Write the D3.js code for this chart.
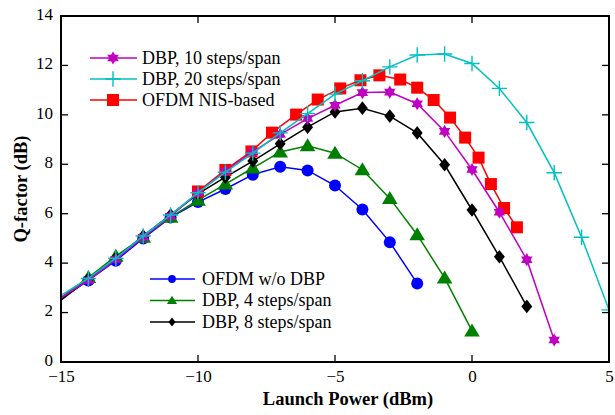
<!DOCTYPE html>
<html><head><meta charset="utf-8">
<script src="https://cdn.jsdelivr.net/npm/d3@7"></script>
</head>
<body style="margin:0;background:#fff">
<svg id="c" width="615" height="415"></svg>
<script>
const xTicks = [-15,-10,-5,0,5];
const yTicks = [0,2,4,6,8,10,12,14];

const blueX = [-15,-14,-13,-12,-11,-10,-9,-8,-7,-6,-5,-4,-3,-2];
const blueY = [2.55,3.3,4.1,5.0,5.85,6.47,7.0,7.58,7.9,7.75,7.14,6.17,4.85,3.18];

const greenX = [-15,-14,-13,-12,-11,-10,-9,-8,-7,-6,-5,-4,-3,-2,-1,0];
const greenY = [2.6,3.42,4.28,5.05,5.86,6.55,7.2,7.85,8.5,8.75,8.45,7.78,6.62,5.15,3.4,1.26];

const blackX = [-15,-14,-13,-12,-11,-10,-9,-8,-7,-6,-5,-4,-3,-2,-1,0,1,2];
const blackY = [2.5,3.35,4.2,5.1,5.95,6.8,7.48,8.13,8.83,9.5,10.12,10.27,9.95,9.27,7.98,6.15,4.26,2.25];

const redX = [-10,-9,-8.05,-7.3,-6.42,-5.63,-4.81,-4.07,-3.38,-2.62,-2.0,-1.4,-0.8,-0.25,0.24,0.69,1.17,1.64];
const redY = [6.9,7.77,8.52,9.28,10.01,10.62,11.07,11.4,11.6,11.43,11.1,10.6,9.89,9.08,8.27,7.2,6.23,5.45];

const magX = [-15,-14,-13,-12,-11,-10,-9,-8,-7,-6,-5,-4,-3,-2,-1,0,1,2,3];
const magY = [2.6,3.3,4.15,5.05,5.9,6.85,7.72,8.5,9.21,9.85,10.39,10.9,10.92,10.45,9.33,7.79,6.06,4.14,0.89];

const cyanX = [-15,-14,-13,-12,-11,-10,-9,-8,-7,-6,-5,-4,-3,-2,-1,0,1,2,3,4,5];
const cyanY = [2.7,3.38,4.2,5.1,5.95,6.85,7.68,8.45,9.27,10.05,10.84,11.38,11.94,12.42,12.46,12.08,11.07,9.69,7.66,5.05,2.11];

const series = [
  {name:"OFDM w/o DBP", x:blueX, y:blueY, color:"#0000ff", sym:"circle"},
  {name:"DBP, 4 steps/span", x:greenX, y:greenY, color:"#008000", sym:"triangle"},
  {name:"DBP, 8 steps/span", x:blackX, y:blackY, color:"#000000", sym:"diamond"},
  {name:"OFDM NIS-based", x:redX, y:redY, color:"#ff0000", sym:"square"},
  {name:"DBP, 10 steps/span", x:magX, y:magY, color:"#c000c0", sym:"star6"},
  {name:"DBP, 20 steps/span", x:cyanX, y:cyanY, color:"#00c0c0", sym:"plus"}
];
const legendTop = ["DBP, 10 steps/span","DBP, 20 steps/span","OFDM NIS-based"];
const legendBottom = ["OFDM w/o DBP","DBP, 4 steps/span","DBP, 8 steps/span"];

const FONT = "Liberation Serif";
const svg = d3.select("#c");
const L=61, R=609, T=16, B=362;
const x = d3.scaleLinear().domain([-15,5]).range([L,R]);
const y = d3.scaleLinear().domain([0,14]).range([B,T]);

svg.append("defs").append("clipPath").attr("id","clip")
  .append("rect").attr("x",L).attr("y",T).attr("width",R-L).attr("height",B-T);

function marker(g, sym, color, s){
  if(sym==="circle"){
    g.append("circle").attr("r",s*0.5).attr("fill",color);
  } else if(sym==="square"){
    g.append("rect").attr("x",-s/2).attr("y",-s/2).attr("width",s).attr("height",s).attr("fill",color);
  } else if(sym==="triangle"){
    const h=s*0.95;
    g.append("path").attr("d",`M0,${-h*0.6}L${s*0.6},${h*0.45}L${-s*0.6},${h*0.45}Z`).attr("fill",color);
  } else if(sym==="diamond"){
    const a=s*0.62;
    g.append("path").attr("d",`M0,${-a}L${a*0.8},0L0,${a}L${-a*0.8},0Z`).attr("fill",color);
  } else if(sym==="star6"){
    const r=s*0.55;
    const t1=[0,1,2].map(i=>{const a=-Math.PI/2+i*2*Math.PI/3;return [r*Math.cos(a),r*Math.sin(a)];});
    const t2=[0,1,2].map(i=>{const a=Math.PI/2+i*2*Math.PI/3;return [r*Math.cos(a),r*Math.sin(a)];});
    g.append("path").attr("d","M"+t1.join("L")+"Z").attr("fill",color);
    g.append("path").attr("d","M"+t2.join("L")+"Z").attr("fill",color);
  } else if(sym==="plus"){
    const a=s*0.55;
    g.append("path").attr("d",`M${-a},0H${a}M0,${-a}V${a}`).attr("stroke",color).attr("stroke-width",1.4).attr("fill","none");
  }
}

const sizes = {circle:12, square:12, triangle:13, diamond:11, star6:12, plus:14};

const plot = svg.append("g").attr("clip-path","url(#clip)");
const line = d3.line().x(d=>x(d[0])).y(d=>y(d[1]));
series.forEach(s=>{
  const pts = s.x.map((v,i)=>[v,s.y[i]]);
  plot.append("path").datum(pts).attr("d",line).attr("fill","none")
    .attr("stroke",s.color).attr("stroke-width",1.5);
  pts.filter(p=>p[0]>-15).forEach(p=>{
    const g = plot.append("g").attr("transform",`translate(${x(p[0])},${y(p[1])})`);
    marker(g, s.sym, s.color, sizes[s.sym]);
  });
});

const tl=7;
const ax = svg.append("g").attr("stroke","#000").attr("stroke-width",1.3);
xTicks.forEach(t=>{
  ax.append("line").attr("x1",x(t)).attr("x2",x(t)).attr("y1",B).attr("y2",B-tl);
  ax.append("line").attr("x1",x(t)).attr("x2",x(t)).attr("y1",T).attr("y2",T+tl);
});
yTicks.forEach(t=>{
  ax.append("line").attr("x1",L).attr("x2",L+tl).attr("y1",y(t)).attr("y2",y(t));
  ax.append("line").attr("x1",R).attr("x2",R-tl).attr("y1",y(t)).attr("y2",y(t));
});
svg.append("rect").attr("x",L).attr("y",T).attr("width",R-L).attr("height",B-T)
  .attr("fill","none").attr("stroke","#000").attr("stroke-width",2);

const xa = d3.axisBottom(x).tickValues(xTicks).tickSize(0).tickPadding(8);
const gx = svg.append("g").attr("transform",`translate(0,${B})`).call(xa);
gx.select(".domain").remove();
gx.selectAll("text").attr("fill","#000").style("font-family",FONT).style("font-size","17px");
const ya = d3.axisLeft(y).tickValues(yTicks).tickSize(0).tickPadding(8);
const gy = svg.append("g").attr("transform",`translate(${L},0)`).call(ya);
gy.select(".domain").remove();
gy.selectAll("text").attr("fill","#000").attr("dy","0.2em").style("font-family",FONT).style("font-size","17px");

svg.append("text").attr("x",348).attr("y",405).attr("text-anchor","middle")
  .style("font-family",FONT).style("font-size","18.5px").style("font-weight","bold").text("Launch Power (dBm)");
svg.append("text").attr("transform","translate(27,189) rotate(-90)").attr("text-anchor","middle")
  .style("font-family",FONT).style("font-size","18.5px").style("font-weight","bold").text("Q-factor (dB)");

function legend(names, x0, x1, xm, xt, y0, dy, msc){
  names.forEach((n,i)=>{
    const s = series.find(d=>d.name===n);
    const yy = y0+i*dy;
    svg.append("line").attr("x1",x0).attr("x2",x1).attr("y1",yy).attr("y2",yy)
      .attr("stroke",s.color).attr("stroke-width",1.5);
    const g = svg.append("g").attr("transform",`translate(${xm},${yy})`);
    marker(g, s.sym, s.color, sizes[s.sym]*msc);
    svg.append("text").attr("x",xt).attr("y",yy).attr("dy","0.33em")
      .style("font-family",FONT).style("font-size","18px").text(n);
  });
}
legend(legendTop, 90, 137, 113, 142, 58, 21, 1);
legend(legendBottom, 150, 195, 172, 202, 279, 21.5, 0.65);
</script></body></html>
